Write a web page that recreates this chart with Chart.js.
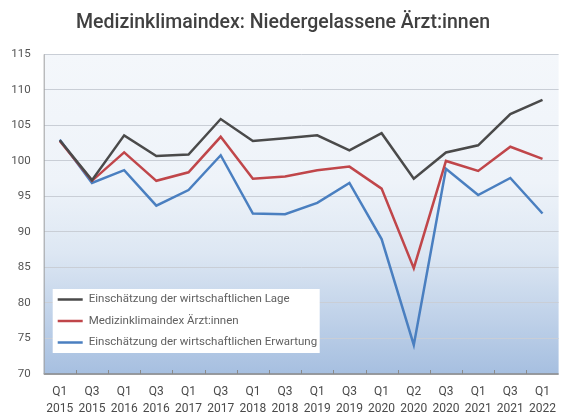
<!DOCTYPE html>
<html>
<head>
<meta charset="utf-8">
<script src="https://cdn.jsdelivr.net/npm/chart.js@4/dist/chart.umd.min.js"></script>
<style>
html,body{margin:0;padding:0;background:#fff;}
#wrap{width:566px;height:414px;}
</style>
</head>
<body>
<div id="wrap"><canvas id="c" width="566" height="414"></canvas></div>
<script>
const categories = [
  ['Q1','2015'],['Q3','2015'],['Q1','2016'],['Q3','2016'],['Q1','2017'],['Q3','2017'],
  ['Q1','2018'],['Q3','2018'],['Q1','2019'],['Q3','2019'],['Q1','2020'],['Q2','2020'],
  ['Q3','2020'],['Q1','2021'],['Q3','2021'],['Q1','2022']
];
const lage      = [102.9, 97.3, 103.6, 100.7, 100.9, 105.9, 102.8, 103.2, 103.6, 101.5, 103.9, 97.5, 101.2, 102.2, 106.6, 108.6];
const klima     = [102.8, 97.2, 101.2,  97.2,  98.4, 103.4,  97.5,  97.8,  98.7,  99.2,  96.1, 84.9, 100.0,  98.6, 102.0, 100.3];
const erwartung = [103.0, 96.9,  98.7,  93.7,  95.9, 100.8,  92.6,  92.5,  94.1,  96.9,  89.0, 74.1,  98.9,  95.2,  97.6,  92.6];
const seriesNames = [
  'Einschätzung der wirtschaftlichen Lage',
  'Medizinklimaindex Ärzt:innen',
  'Einschätzung der wirtschaftlichen Erwartung'
];
const yTicks = [70, 75, 80, 85, 90, 95, 100, 105, 110, 115];
const titleText = 'Medizinklimaindex: Niedergelassene Ärzt:innen';

const colors = ['#4a4a4a', '#c0464a', '#4a7fc0'];

const bgPlugin = {
  id: 'bg',
  beforeDraw(chart) {
    const {ctx, chartArea: a} = chart;
    const g = ctx.createLinearGradient(0, a.top, 0, a.bottom);
    g.addColorStop(0, '#f4f7fb');
    g.addColorStop(0.4, '#eef3f9');
    g.addColorStop(0.62, '#dde7f3');
    g.addColorStop(1, '#a6bfe0');
    ctx.save();
    ctx.fillStyle = g;
    ctx.fillRect(a.left, a.top, a.right - a.left, a.bottom - a.top);
    ctx.restore();
  },
  afterDatasetsDraw(chart) {
    const {ctx, chartArea: a} = chart;
    const xs = chart.scales.x;
    ctx.save();
    ctx.strokeStyle = '#8a8a8a';
    ctx.lineWidth = 1.5;
    ctx.beginPath();
    ctx.moveTo(a.left, a.bottom);
    ctx.lineTo(a.right, a.bottom);
    ctx.stroke();
    ctx.strokeStyle = '#a0a0a0';
    ctx.lineWidth = 1;
    ctx.beginPath();
    ctx.moveTo(a.left + 0.5, a.top);
    ctx.lineTo(a.left + 0.5, a.bottom);
    ctx.stroke();
    ctx.strokeStyle = '#8a8a8a';
    ctx.lineWidth = 1;
    for (let i = 0; i < categories.length - 1; i++) {
      const x = Math.round((xs.getPixelForValue(i) + xs.getPixelForValue(i + 1)) / 2) + 0.5;
      ctx.beginPath();
      ctx.moveTo(x, a.bottom);
      ctx.lineTo(x, a.bottom - 4);
      ctx.stroke();
    }
    const bx = a.left + 9, by = a.bottom - 85, bw = 267, bh = 64;
    ctx.fillStyle = '#ffffff';
    ctx.fillRect(bx, by, bw, bh);
    ctx.font = '11.5px Roboto';
    ctx.textBaseline = 'middle';
    chart.data.datasets.forEach((ds, i) => {
      const y = by + 10.5 + i * 21.5;
      ctx.strokeStyle = ds.borderColor;
      ctx.lineWidth = 2.5;
      ctx.beginPath();
      ctx.moveTo(bx + 5, y);
      ctx.lineTo(bx + 30, y);
      ctx.stroke();
      ctx.fillStyle = '#606060';
      ctx.fillText(ds.label, bx + 36, y);
    });
    ctx.restore();
  }
};

new Chart(document.getElementById('c'), {
  type: 'line',
  data: {
    labels: categories,
    datasets: [
      {label: seriesNames[0], data: lage, borderColor: colors[0]},
      {label: seriesNames[1], data: klima, borderColor: colors[1]},
      {label: seriesNames[2], data: erwartung, borderColor: colors[2]}
    ].map(d => Object.assign(d, {borderWidth: 2.5, pointRadius: 0, tension: 0, fill: false}))
  },
  options: {
    responsive: false,
    animation: false,
    layout: {padding: {left: 0, right: 0, top: 0, bottom: 0}},
    plugins: {
      legend: {display: false},
      tooltip: {enabled: false},
      title: {
        display: true,
        text: titleText,
        color: '#404040',
        font: {family: 'Roboto', size: 19.5, weight: '500'},
        padding: {top: 11, bottom: 20}
      }
    },
    scales: {
      x: {
        offset: true,
        grid: {display: false, drawTicks: false},
        border: {display: false},
        ticks: {
          color: '#4a4a4a',
          font: {family: 'Roboto', size: 12, lineHeight: 1.38},
          padding: 10,
          maxRotation: 0,
          autoSkip: false
        },
        afterFit(s) { s.height = 40; }
      },
      y: {
        min: 70,
        max: 115,
        afterBuildTicks(s) { s.ticks = yTicks.map(v => ({value: v})); },
        grid: {color: '#c9ced6', lineWidth: 1, drawTicks: false},
        border: {display: false},
        ticks: {
          color: '#555555',
          font: {family: 'Roboto', size: 11.5},
          padding: 13
        },
        afterFit(s) { s.width = 43.7; }
      }
    }
  },
  plugins: [bgPlugin]
});
</script>
</body>
</html>
